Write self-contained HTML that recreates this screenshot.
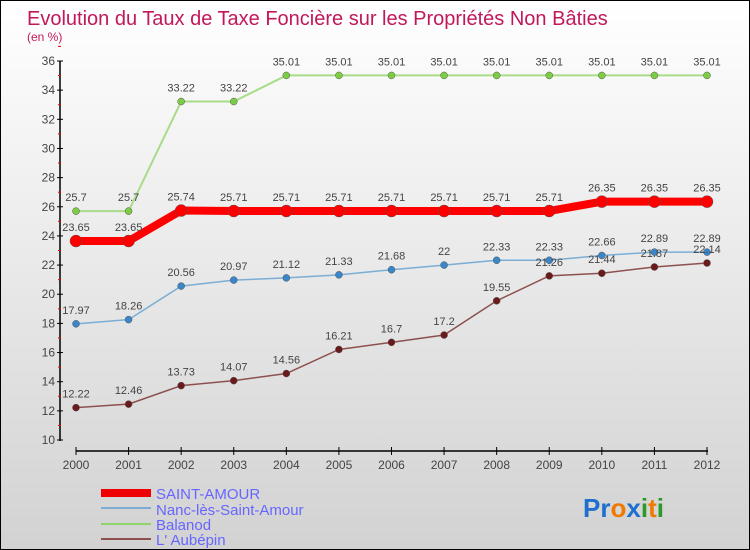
<!DOCTYPE html>
<html><head><meta charset="utf-8"><style>
body{margin:0}
#wrap{width:748px;height:548px;border:1px solid #000;background:linear-gradient(#fff,#d2d2d2);position:relative;font-family:"Liberation Sans",sans-serif;overflow:hidden}
</style></head><body>
<div id="wrap">
<svg id="svg" width="748" height="548" xmlns="http://www.w3.org/2000/svg" font-family="Liberation Sans, sans-serif">
<text x="26" y="24" font-size="20" fill="#c2185b">Evolution du Taux de Taxe Foncière sur les Propriétés Non Bâties</text>
<text x="26" y="40" font-size="12" fill="#c2185b">(en %)</text>
<g id="axes"></g><g id="series"></g>
<g>
<rect x="100" y="488" width="50" height="8" fill="#e00"/>
<text x="155" y="498" font-size="15" fill="#66f">SAINT-AMOUR</text>
<line x1="100" x2="150" y1="507" y2="507" stroke="#7aaed6" stroke-width="2"/>
<text x="155" y="514" font-size="15" fill="#66f">Nanc-lès-Saint-Amour</text>
<line x1="100" x2="150" y1="523" y2="523" stroke="#8fd46a" stroke-width="2"/>
<text x="155" y="529" font-size="15" fill="#66f">Balanod</text>
<line x1="100" x2="150" y1="538" y2="538" stroke="#8c5050" stroke-width="2"/>
<text x="155" y="544" font-size="15" fill="#66f">L' Aubépin</text>
</g>
<text x="582" y="516" font-size="26" font-weight="bold"><tspan fill="#1e6fd0">Pr</tspan><tspan fill="#f07a00">o</tspan><tspan fill="#1e6fd0">x</tspan><tspan fill="#2a9a2a">i</tspan><tspan fill="#f07a00">t</tspan><tspan fill="#2a9a2a">i</tspan></text>
</svg></div>
<script>
const years=[2000,2001,2002,2003,2004,2005,2006,2007,2008,2009,2010,2011,2012];
const saintAmour=[23.65,23.65,25.74,25.71,25.71,25.71,25.71,25.71,25.71,25.71,26.35,26.35,26.35];
const nanc=[17.97,18.26,20.56,20.97,21.12,21.33,21.68,22,22.33,22.33,22.66,22.89,22.89];
const balanod=[25.7,25.7,33.22,33.22,35.01,35.01,35.01,35.01,35.01,35.01,35.01,35.01,35.01];
const aubepin=[12.22,12.46,13.73,14.07,14.56,16.21,16.7,17.2,19.55,21.26,21.44,21.87,22.14];
const yTicks=[10,12,14,16,18,20,22,24,26,28,30,32,34,36];
const NS="http://www.w3.org/2000/svg";
const x=i=>75+i*(706-75)/(years.length-1);
const y=v=>439-(v-10)*(439-60)/26;
function el(t,a,p){const e=document.createElementNS(NS,t);for(const k in a)e.setAttribute(k,a[k]);p.appendChild(e);return e;}
const ax=document.getElementById('axes');
const yl=el('line',{x1:59,x2:59,y1:60,y2:440,stroke:'#000','stroke-width':1.5},ax);


yTicks.forEach(t=>{
  el('line',{x1:56,x2:62,y1:y(t),y2:y(t),stroke:'#000'},ax);
  el('line',{x1:57,x2:60,y1:y(t+1),y2:y(t+1),stroke:'#e00'},ax);
  const tx=el('text',{x:54,y:y(t)+4,'font-size':12,fill:'#444','text-anchor':'end'},ax);tx.textContent=t;
  
  
});
const xl=el('line',{x1:75,x2:707,y1:450,y2:450,stroke:'#000','stroke-width':1.5},ax);


years.forEach((yr,i)=>{
  el('line',{x1:x(i),x2:x(i),y1:446,y2:454,stroke:'#000'},ax);
  const tx=el('text',{x:x(i),y:468,'font-size':12,fill:'#444','text-anchor':'middle'},ax);tx.textContent=yr;
  
  
});
const sg=document.getElementById('series');
function series(vals,color,w,r,name,dot){
  const g=el('g',{},sg);
  
  
  el('polyline',{points:vals.map((v,i)=>x(i)+','+y(v)).join(' '),fill:'none',stroke:color,'stroke-width':w},g);
  vals.forEach((v,i)=>{
    const c=el('circle',{cx:x(i),cy:y(v),r:r,fill:dot,stroke:'#555','stroke-width':0.5},g);
    
    
    const t=el('text',{x:x(i),y:y(v)-10,'font-size':11,fill:'#444','text-anchor':'middle'},g);t.textContent=String(v);
    
    
  });
}
series(balanod,'#a8dc88',2,3.5,'balanod-series','#7ccc44');
series(nanc,'#7aaed6',1.5,3.5,'nanc-series','#3a86c8');
series(aubepin,'#8c5050',1.5,3.5,'aubepin-series','#6a1a1a');
series(saintAmour,'#f00',8,6,'saint-amour-series','#f00');
</script></body></html>
